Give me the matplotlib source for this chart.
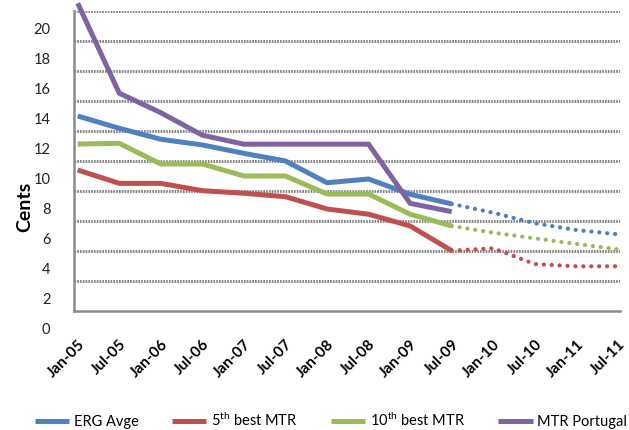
import matplotlib
matplotlib.use("Agg")
import matplotlib.pyplot as plt
import matplotlib.transforms as mtransforms

plt.rcParams['font.family'] = ['Lato', 'DejaVu Sans']
plt.rcParams['mathtext.fontset'] = 'custom'
plt.rcParams['mathtext.rm'] = 'Lato'
plt.rcParams['mathtext.it'] = 'Lato:italic'
plt.rcParams['mathtext.bf'] = 'Lato:bold'

# Half-yearly periods
periods = ['Jan-05', 'Jul-05', 'Jan-06', 'Jul-06', 'Jan-07', 'Jul-07', 'Jan-08',
           'Jul-08', 'Jan-09', 'Jul-09', 'Jan-10', 'Jul-10', 'Jan-11', 'Jul-11']

# Observed mobile termination rates (cents), Jan-05 .. Jul-09
erg_avge = [12.98, 12.16, 11.43, 11.05, 10.49, 9.98, 8.53, 8.78, 7.76, 7.12]
best5 = [9.38, 8.49, 8.49, 8.00, 7.83, 7.60, 6.78, 6.43, 5.65, 4.00]
best10 = [11.11, 11.16, 9.78, 9.78, 8.98, 8.98, 7.78, 7.78, 6.43, 5.65]
mtr_portugal = [20.5, 14.5, 13.2, 11.7, 11.1, 11.1, 11.1, 11.1, 7.16, 6.6]

# Projected glide paths, Jul-09 .. Jul-11
erg_avge_proj = [7.12, 6.53, 5.83, 5.38, 5.09]
best5_proj = [4.00, 4.16, 3.11, 2.96, 2.96]
best10_proj = [5.65, 5.20, 4.82, 4.45, 4.09]

y_ticks = [0, 2, 4, 6, 8, 10, 12, 14, 16, 18, 20]

c_blue = '#4F81BD'
c_red = '#C0504D'
c_green = '#9BBB59'
c_purple = '#8064A2'

fig = plt.figure(figsize=(6.29, 4.30), dpi=100)
ax = fig.add_axes([74 / 629, 1 - 310.7 / 430, (620 - 74) / 629, 300 / 430])

hist_x = list(range(len(erg_avge)))
proj_x = list(range(len(erg_avge) - 1, len(periods)))

lw = 3.6
series = [
    (erg_avge, erg_avge_proj, c_blue, 'ERG Avge'),
    (best5, best5_proj, c_red, '5$^{\\mathrm{th}}$ best MTR'),
    (best10, best10_proj, c_green, '10$^{\\mathrm{th}}$ best MTR'),
    (mtr_portugal, None, c_purple, 'MTR Portugal'),
]
handles = []
for hist, proj, col, lab in series:
    h, = ax.plot(hist_x, hist, color=col, lw=lw, label=lab,
                 solid_joinstyle='miter', solid_capstyle='butt', clip_on=False, zorder=3)
    handles.append(h)
    if proj is not None:
        ax.plot(proj_x, proj, color=col, lw=3.0, linestyle=(0, (0.05, 1.85)),
                dash_capstyle='round', clip_on=False, zorder=3)

ax.set_xlim(-0.089, 13.05)
ax.set_ylim(0, 20)

# dotted horizontal gridlines
for v in y_ticks[1:]:
    ax.axhline(v, color='#7f7f7f', lw=2.0, linestyle=(0, (0.6, 0.4)), zorder=1)

for s in ['top', 'right']:
    ax.spines[s].set_visible(False)
for s in ['left', 'bottom']:
    ax.spines[s].set_color('#8c8c8c')
    ax.spines[s].set_linewidth(1.8)

ax.set_yticks(y_ticks)
ax.set_yticklabels([str(v) for v in y_ticks], fontsize=10.5)
ax.tick_params(axis='y', length=0, pad=17, colors='#222222')
shift = mtransforms.ScaledTranslation(0, -17.3 / 100, fig.dpi_scale_trans)
for t in ax.get_yticklabels():
    t.set_transform(t.get_transform() + shift)

ax.set_xticks(range(len(periods)))
ax.set_xticklabels(periods, rotation=45, ha='right', va='top',
                   rotation_mode='anchor', fontsize=11, fontweight='bold')
ax.tick_params(axis='x', length=0, pad=19)

fig.text(25 / 629, 1 - 207 / 430, 'Cents', rotation=90, fontsize=14,
         fontweight='bold', ha='center', va='center')

fig.legend(handles=handles, loc='center', bbox_to_anchor=(331 / 629, 1 - 420 / 430),
           ncol=4, frameon=False, fontsize=10.5, handlelength=2.35,
           handletextpad=0.3, columnspacing=2.3)

fig.savefig('out.png', dpi=100)
